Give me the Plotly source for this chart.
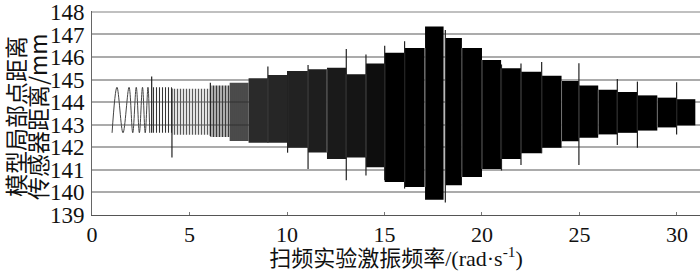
import plotly.graph_objects as go

# ---------------- data ----------------
# early swept-sine part: successive peaks / troughs
chirp_x = [1.03, 1.28, 1.59, 1.90, 2.09, 2.27, 2.43, 2.59, 2.73, 2.87, 2.96]
chirp_y = [142.64, 144.66, 142.64, 144.66, 142.64, 144.66, 142.64, 144.66, 142.64, 144.66, 142.64]

# stepped-frequency segments: start, end, lower envelope, upper envelope
seg_start = [3.04, 4.10, 6.07, 7.06, 8.03, 9.02, 10.03, 11.08, 12.05, 13.04, 14.05, 15.01, 16.03,
             17.08, 18.12, 18.97, 20.00, 20.98, 22.00, 23.06, 24.08, 24.97, 25.96, 26.94, 27.97,
             28.99, 29.98]
seg_end = [4.10, 6.07, 7.06, 8.03, 9.02, 10.03, 11.08, 12.05, 13.04, 14.05, 15.01, 16.03, 17.06,
           18.03, 18.97, 20.00, 20.98, 22.00, 23.06, 24.08, 24.97, 25.96, 26.94, 27.97, 28.99,
           29.98, 30.94]
seg_low = [142.64, 142.55, 142.46, 142.28, 142.20, 142.20, 141.98, 141.77, 141.48, 141.55, 141.11,
           140.46, 140.24, 139.67, 140.32, 140.68, 141.04, 141.48, 141.74, 141.98, 142.27, 142.42,
           142.57, 142.64, 142.74, 142.88, 142.97]
seg_high = [144.66, 144.59, 144.74, 144.86, 145.06, 145.20, 145.38, 145.46, 145.53, 145.24, 145.71,
            146.19, 146.40, 147.35, 146.84, 146.40, 145.87, 145.50, 145.35, 145.17, 144.94, 144.74,
            144.55, 144.45, 144.30, 144.20, 144.13]

# transient spikes at the frequency steps: position, low, high
spike_x = [3.06, 4.10, 6.07, 9.02, 10.03, 11.08, 13.04, 14.05, 15.01, 16.03, 18.12, 21.00, 22.00,
           23.06, 24.97, 26.94, 27.97, 29.98]
spike_low = [142.64, 141.55, 142.50, 142.20, 141.76, 141.04, 140.54, 140.75, 140.54, 140.17, 139.55,
             140.97, 141.21, 141.74, 141.21, 142.10, 141.98, 142.57]
spike_high = [145.14, 144.60, 144.86, 145.58, 145.38, 145.65, 146.36, 146.11, 146.50, 146.70, 147.20,
              145.67, 145.71, 145.78, 145.72, 145.03, 144.91, 144.88]

x_ticks = [0, 5, 10, 15, 20, 25, 30]
y_ticks = [139, 140, 141, 142, 143, 144, 145, 146, 147, 148]

# ---------------- styles ----------------
# (pattern size, solidity, fg colour) for the first, still resolvable segments
EARLY_STYLE = [(3, 0.36, "#333333"), (3, 0.45, "#5a5a5a"), (3, 0.62, "#3a3a3a"), (2, 0.85, "#2a2a2a")]
SOLID_SHADES = ["#2a2a2a", "#262626", "#222222", "#1e1e1e", "#1a1a1a", "#151515", "#0e0e0e"]
GRID = "#ababab"

SERIF = "Liberation Serif, Times New Roman, Noto Sans CJK SC, serif"
CJK = "Noto Sans CJK SC, Liberation Serif, serif"

fig = go.Figure()

fig.add_trace(go.Scatter(x=chirp_x, y=chirp_y, mode="lines",
                         line=dict(color="#444444", width=1, shape="spline"),
                         hoverinfo="skip", showlegend=False))

for i in range(len(seg_start)):
    s, e, lo, hi = seg_start[i], seg_end[i], seg_low[i], seg_high[i]
    kw = {}
    if i < len(EARLY_STYLE):
        size, sol, fg = EARLY_STYLE[i]
        kw["fillpattern"] = dict(shape="|", size=size, solidity=sol, fgcolor=fg,
                                 bgcolor="rgba(255,255,255,0)", fillmode="replace")
        kw["fillcolor"] = "rgba(0,0,0,0)"
    else:
        j = i - len(EARLY_STYLE)
        kw["fillcolor"] = SOLID_SHADES[j] if j < len(SOLID_SHADES) else "#000000"
    fig.add_trace(go.Scatter(x=[s, s, e, e, s], y=[lo, hi, hi, lo, lo], mode="lines",
                             fill="toself", line=dict(width=0), hoverinfo="skip",
                             showlegend=False, **kw))

# faint seams between the dark segments
gx, gy = [], []
for k in range(5, len(seg_start)):
    gx += [seg_start[k], seg_start[k], None]
    gy += [max(seg_low[k], seg_low[k - 1]), min(seg_high[k], seg_high[k - 1]), None]
fig.add_trace(go.Scatter(x=gx, y=gy, mode="lines", line=dict(color="#8a8a8a", width=0.7),
                         hoverinfo="skip", showlegend=False))

sx, sy = [], []
for x, lo, hi in zip(spike_x, spike_low, spike_high):
    sx += [x, x, None]
    sy += [lo, hi, None]
fig.add_trace(go.Scatter(x=sx, y=sy, mode="lines", line=dict(color="#222222", width=1.2),
                         hoverinfo="skip", showlegend=False))

fig.update_layout(
    width=700, height=271, autosize=False,
    margin=dict(l=92, r=0, t=8, b=56),
    paper_bgcolor="white", plot_bgcolor="white",
    font=dict(family=SERIF, size=22, color="#111111"),
    xaxis=dict(range=[0, 31.18], tickvals=x_ticks, ticktext=[str(v) for v in x_ticks],
               showgrid=False, zeroline=False, showline=True, linecolor="#555555", linewidth=1,
               ticks="inside", ticklen=3, tickcolor="#777777",
               tickfont=dict(family=SERIF, size=22, color="#111111"),
               title=dict(text="扫频实验激振频率/(rad·s<sup>-1</sup>)",
                          font=dict(family=SERIF, size=22, color="#111111"), standoff=0)),
    yaxis=dict(range=[138.998, 148.04], tickvals=y_ticks, ticktext=[str(v) for v in y_ticks],
               showgrid=True, gridcolor=GRID, gridwidth=1.5, zeroline=False,
               showline=True, linecolor="#666666", linewidth=1, ticks="",
               ticklabeloverflow="allow",
               tickfont=dict(family=SERIF, size=23, color="#111111"), ticklabelstandoff=2),
)

# top grid line (plotly skips the grid line sitting on the plot edge)
fig.add_shape(type="line", xref="paper", yref="y", x0=0, x1=1, y0=y_ticks[-1], y1=y_ticks[-1],
              line=dict(color=GRID, width=1.5), layer="below")

fig.add_annotation(text="模型局部点距离", xref="paper", yref="paper", x=0, y=0.48,
                   xanchor="center", yanchor="middle", xshift=-77, textangle=-90, showarrow=False,
                   borderpad=0, font=dict(family=CJK, size=23, color="#111111"))
fig.add_annotation(text="传感器距离/mm", xref="paper", yref="paper", x=0, y=0.48,
                   xanchor="center", yanchor="middle", xshift=-55, textangle=-90, showarrow=False,
                   borderpad=0, font=dict(family=CJK, size=23, color="#111111"))

fig.write_html("out.html", config={"displayModeBar": False},
               post_script="document.body.style.margin='0';")
